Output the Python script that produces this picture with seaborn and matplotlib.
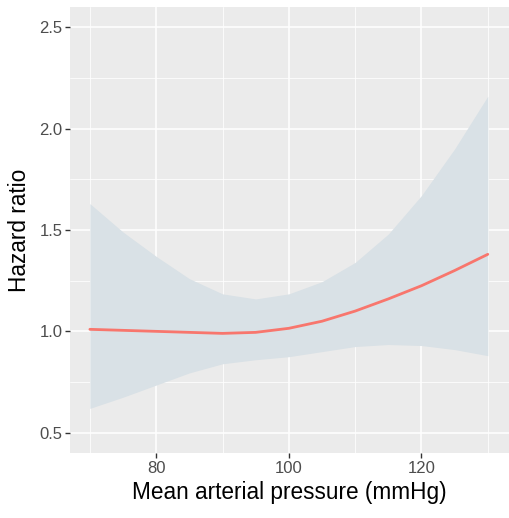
import matplotlib
matplotlib.use("Agg")
import matplotlib.pyplot as plt
import matplotlib.ticker as mtick
import seaborn as sns
import pandas as pd

# values
map_mmhg = [70, 75, 80, 85, 90, 95, 100, 105, 110, 115, 120, 125, 130]
hazard = [1.01, 1.005, 1.0, 0.995, 0.99, 0.995, 1.015, 1.05, 1.10, 1.16, 1.225, 1.30, 1.38]
upper = [1.63, 1.49, 1.37, 1.26, 1.185, 1.16, 1.185, 1.245, 1.34, 1.48, 1.67, 1.90, 2.16]
lower = [0.62, 0.675, 0.735, 0.795, 0.84, 0.86, 0.875, 0.90, 0.925, 0.935, 0.93, 0.91, 0.88]

x_ticks = [80, 100, 120]
y_ticks = [0.5, 1.0, 1.5, 2.0, 2.5]

df = pd.DataFrame({"map": map_mmhg, "hr": hazard, "lo": lower, "hi": upper})

sns.set_theme(style="darkgrid", rc={
    "axes.facecolor": "#EBEBEB",
    "grid.color": "white",
    "axes.edgecolor": "#EBEBEB",
})
plt.rcParams["font.family"] = ["Liberation Sans", "DejaVu Sans"]

fig, ax = plt.subplots(figsize=(5.09, 5.18), dpi=100)
fig.subplots_adjust(left=0.1375, right=1.0, top=0.9865, bottom=0.1255)

ax.fill_between(df["map"], df["lo"], df["hi"], color="#D9E1E6", lw=0, zorder=2)
sns.lineplot(data=df, x="map", y="hr", ax=ax, color="#F8766D", linewidth=2.0, zorder=3)

ax.set_xlim(67, 133.2)
ax.set_ylim(0.40, 2.60)
ax.set_xticks(x_ticks)
ax.set_yticks(y_ticks)
ax.yaxis.set_major_formatter(mtick.FormatStrFormatter('%.1f'))
ax.xaxis.set_minor_locator(mtick.FixedLocator([70, 90, 110, 130]))
ax.yaxis.set_minor_locator(mtick.FixedLocator([0.75, 1.25, 1.75, 2.25]))
ax.grid(which="major", color="white", linewidth=1.1)
ax.grid(which="minor", color="white", linewidth=0.55)
ax.set_axisbelow(True)
for s in ax.spines.values():
    s.set_visible(False)

ax.tick_params(axis="both", which="major", length=3.5, width=1.0, color="#333333",
               labelsize=12, labelcolor="#4D4D4D", pad=2, left=True, bottom=True)
ax.tick_params(axis="both", which="minor", length=0)

ax.set_xlabel("Mean arterial pressure (mmHg)", fontsize=16.3, color="black", labelpad=4)
ax.set_ylabel("Hazard ratio", fontsize=16.3, color="black", labelpad=6)

plt.savefig("out.png", dpi=100)
